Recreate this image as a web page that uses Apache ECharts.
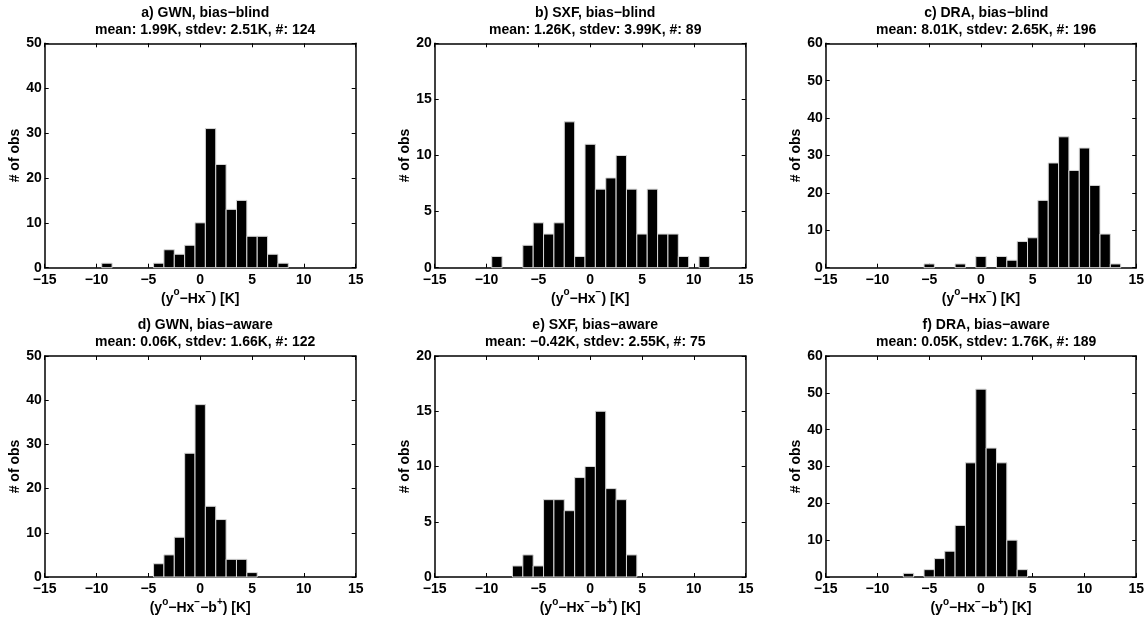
<!DOCTYPE html>
<html>
<head>
<meta charset="utf-8">
<script src="https://cdn.jsdelivr.net/npm/echarts@6/dist/echarts.min.js"></script>
<style>
html, body { margin: 0; padding: 0; background: #fff; }
#main { width: 1147px; height: 622px; }
</style>
</head>
<body>
<div id="main"></div>
<script>
// histogram bins are 1 K wide, centred on these values
const binsGwnBlind = [-9, -4, -3, -2, -1, 0, 1, 2, 3, 4, 5, 6, 7, 8];
const countsGwnBlind = [1, 1, 4, 3, 5, 10, 31, 23, 13, 15, 7, 7, 3, 1];

const binsSxfBlind = [-9, -6, -5, -4, -3, -2, -1, 0, 1, 2, 3, 4, 5, 6, 7, 8, 9, 11];
const countsSxfBlind = [1, 2, 4, 3, 4, 13, 1, 11, 7, 8, 10, 7, 3, 7, 3, 3, 1, 1];

const binsDraBlind = [-5, -2, 0, 2, 3, 4, 5, 6, 7, 8, 9, 10, 11, 12, 13];
const countsDraBlind = [1, 1, 3, 3, 2, 7, 8, 18, 28, 35, 26, 32, 22, 9, 1];

const binsGwnAware = [-4, -3, -2, -1, 0, 1, 2, 3, 4, 5];
const countsGwnAware = [3, 5, 9, 28, 39, 16, 13, 4, 4, 1];

const binsSxfAware = [-7, -6, -5, -4, -3, -2, -1, 0, 1, 2, 3, 4];
const countsSxfAware = [1, 2, 1, 7, 7, 6, 9, 10, 15, 8, 7, 2];

const binsDraAware = [-7, -5, -4, -3, -2, -1, 0, 1, 2, 3, 4];
const countsDraAware = [1, 2, 5, 7, 14, 31, 51, 35, 31, 10, 2];

const titles = [
  'a) GWN, bias\u2212blind', 'b) SXF, bias\u2212blind', 'c) DRA, bias\u2212blind',
  'd) GWN, bias\u2212aware', 'e) SXF, bias\u2212aware', 'f) DRA, bias\u2212aware'
];
const subtitles = [
  'mean: 1.99K, stdev: 2.51K, #: 124',
  'mean: 1.26K, stdev: 3.99K, #: 89',
  'mean: 8.01K, stdev: 2.65K, #: 196',
  'mean: 0.06K, stdev: 1.66K, #: 122',
  'mean: \u22120.42K, stdev: 2.55K, #: 75',
  'mean: 0.05K, stdev: 1.76K, #: 189'
];
const yMaxes = [50, 20, 60, 50, 20, 60];
const ySteps = [10, 5, 10, 10, 5, 10];
const xMin = -15, xMax = 15, xStep = 5;

const bins = [binsGwnBlind, binsSxfBlind, binsDraBlind, binsGwnAware, binsSxfAware, binsDraAware];
const counts = [countsGwnBlind, countsSxfBlind, countsDraBlind, countsGwnAware, countsSxfAware, countsDraAware];

// layout of the 2x3 panels (pixels)
const lefts = [44.7, 434.7, 825.7];
const tops = [43.3, 356];
const heights = [224.4, 221];
const plotW = 311;

const FONT = 'Liberation Sans, Arial, sans-serif';
const minus = v => String(v).replace('-', '\u2212');

const xNameTop = '{n|(y}{s|o}{n|\u2212Hx}{s|\u2212}{n|) [K]}';
const xNameBottom = '{n|(y}{s|o}{n|\u2212Hx}{s|\u2212}{n|\u2212b}{s|+}{n|) [K]}';
const nameRich = {
  n: { fontSize: 14, fontWeight: 'bold', fontFamily: FONT, color: '#000', lineHeight: 18, verticalAlign: 'bottom' },
  s: { fontSize: 10, fontWeight: 'bold', fontFamily: FONT, color: '#000', lineHeight: 9, verticalAlign: 'top' }
};

const axisLine = { show: true, onZero: false, lineStyle: { color: '#000', width: 1.5 } };
const tickIn = { show: true, inside: true, length: 4, lineStyle: { color: '#000', width: 1 } };
const labelStyle = { color: '#000', fontSize: 14, fontWeight: 'bold', fontFamily: FONT };

let grid = [], xAxis = [], yAxis = [], series = [], title = [];

for (let i = 0; i < 6; i++) {
  const row = Math.floor(i / 3), col = i % 3;
  const left = lefts[col], top = tops[row], h = heights[row];
  grid.push({ left: left, top: top, width: plotW, height: h });

  title.push({
    text: titles[i] + '\n' + subtitles[i],
    left: left + plotW / 2,
    top: top - 44,
    textAlign: 'center',
    textStyle: { color: '#000', fontSize: 14, fontWeight: 'bold', fontFamily: FONT, lineHeight: 17 }
  });

  // bottom x axis with labels
  xAxis.push({
    gridIndex: i, type: 'value', min: xMin, max: xMax, interval: xStep,
    position: 'bottom',
    axisLine: axisLine, axisTick: tickIn, splitLine: { show: false },
    axisLabel: Object.assign({ margin: 5, formatter: minus }, labelStyle),
    name: row === 0 ? xNameTop : xNameBottom,
    nameLocation: 'middle', nameGap: 20,
    nameTextStyle: { rich: nameRich }
  });
  // top x axis, ticks only
  xAxis.push({
    gridIndex: i, type: 'value', min: xMin, max: xMax, interval: xStep,
    position: 'top',
    axisLine: axisLine, axisTick: tickIn, splitLine: { show: false },
    axisLabel: { show: false }
  });
  yAxis.push({
    gridIndex: i, type: 'value', min: 0, max: yMaxes[i], interval: ySteps[i],
    position: 'left',
    axisLine: axisLine, axisTick: tickIn, splitLine: { show: false },
    axisLabel: Object.assign({ margin: 3 }, labelStyle),
    name: '# of obs', nameLocation: 'middle', nameRotate: 90, nameGap: 22,
    nameTextStyle: { color: '#000', fontSize: 14, fontWeight: 'bold', fontFamily: FONT }
  });
  yAxis.push({
    gridIndex: i, type: 'value', min: 0, max: yMaxes[i], interval: ySteps[i],
    position: 'right',
    axisLine: axisLine, axisTick: tickIn, splitLine: { show: false },
    axisLabel: { show: false }
  });

  series.push({
    type: 'custom',
    xAxisIndex: i * 2, yAxisIndex: i * 2,
    data: bins[i].map((b, k) => [b, counts[i][k]]),
    renderItem: function (params, api) {
      const c = api.value(0), v = api.value(1);
      const p0 = api.coord([c - 0.5, v]);
      const p1 = api.coord([c + 0.5, 0]);
      return {
        type: 'rect',
        shape: { x: p0[0], y: p0[1], width: p1[0] - p0[0], height: p1[1] - p0[1] },
        style: { fill: '#000', stroke: '#d8d8d8', lineWidth: 1 }
      };
    },
    silent: true,
    z: 1
  });
}

const myChart = echarts.init(document.getElementById('main'));
myChart.setOption({
  animation: false,
  backgroundColor: '#fff',
  title: title,
  grid: grid,
  xAxis: xAxis,
  yAxis: yAxis,
  series: series
});
</script>
</body>
</html>
